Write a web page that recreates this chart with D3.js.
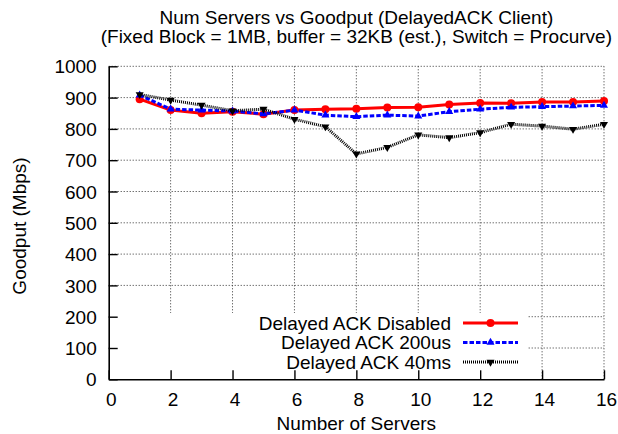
<!DOCTYPE html>
<html>
<head>
<meta charset="utf-8">
<script src="https://cdn.jsdelivr.net/npm/d3@7"></script>
<style>
  body { margin: 0; background: #fff; }
  text { font-family: "Liberation Sans", Arial, Helvetica, sans-serif; font-size: 19px; fill: #000; }
</style>
</head>
<body>
<script>
var width = 618;
var height = 434;

// data
var servers = [1, 2, 3, 4, 5, 6, 7, 8, 9, 10, 11, 12, 13, 14, 15, 16];
var ackDisabled = [895, 860, 850, 855, 847, 860, 863, 864, 868, 869, 878, 883, 882, 886, 886, 889];
var ack200us = [908, 863, 860, 857, 848, 860, 844, 839, 844, 841, 855, 863, 869, 871, 873, 875];
var ack40ms = [910, 892, 876, 858, 863, 831, 807, 720, 741, 781, 772, 788, 815, 809, 799, 815];
var xTicks = [0, 2, 4, 6, 8, 10, 12, 14, 16];
var yTicks = [0, 100, 200, 300, 400, 500, 600, 700, 800, 900, 1000];

var series = [
  { name: 'Delayed ACK Disabled', values: ackDisabled, color: '#ff0000', dash: null, marker: 'circle' },
  { name: 'Delayed ACK 200us', values: ack200us, color: '#0000ff', dash: '4.5,2', marker: 'up' },
  { name: 'Delayed ACK 40ms', values: ack40ms, color: '#000000', dash: '1,1', marker: 'down' }
];

var margin = { left: 108.7, right: 14, top: 66.3, bottom: 54.7 };

var x = d3.scaleLinear().domain([0, 16]).range([margin.left, width - margin.right]);
var y = d3.scaleLinear().domain([0, 1000]).range([height - margin.bottom, margin.top]);

var svg = d3.select('body')
  .append('svg')
  .attr('width', width)
  .attr('height', height);

// title
svg.append('text')
  .attr('x', (x(0) + x(16)) / 2)
  .attr('y', 24)
  .attr('text-anchor', 'middle')
  .text('Num Servers vs Goodput (DelayedACK Client)');
svg.append('text')
  .attr('x', (x(0) + x(16)) / 2)
  .attr('y', 43)
  .attr('text-anchor', 'middle')
  .text('(Fixed Block = 1MB, buffer = 32KB (est.), Switch = Procurve)');

// dotted grid
var grid = svg.append('g')
  .attr('stroke', '#333')
  .attr('stroke-width', 1)
  .attr('stroke-dasharray', '1,2');
grid.selectAll('.gx')
  .data(xTicks.filter(function(d) { return d > 0; }))
  .enter().append('line')
  .attr('x1', function(d) { return x(d); })
  .attr('x2', function(d) { return x(d); })
  .attr('y1', y(0))
  .attr('y2', y(1000));
grid.selectAll('.gy')
  .data(yTicks.filter(function(d) { return d > 0; }))
  .enter().append('line')
  .attr('x1', x(0))
  .attr('x2', x(16))
  .attr('y1', function(d) { return y(d); })
  .attr('y2', function(d) { return y(d); });

// opaque key box
svg.append('rect')
  .attr('x', x(0))
  .attr('y', 313)
  .attr('width', 527 - x(0))
  .attr('height', y(0) - 313)
  .attr('fill', '#fff');

// axes, ticks pointing inward
var xAxis = d3.axisBottom(x).tickValues(xTicks).tickFormat(d3.format('d')).tickSizeOuter(0);
var yAxis = d3.axisLeft(y).tickValues(yTicks).tickFormat(d3.format('d')).tickSizeOuter(0);

var gx = svg.append('g')
  .attr('transform', 'translate(0,' + y(0) + ')')
  .call(xAxis);
var gy = svg.append('g')
  .attr('transform', 'translate(' + x(0) + ',0)')
  .call(yAxis);

[gx, gy].forEach(function(g) {
  g.select('.domain').attr('stroke', '#000').attr('stroke-width', 1.6);
  g.selectAll('.tick line').attr('stroke', '#000').attr('stroke-width', 1.4);
  g.selectAll('.tick text').style('font-size', '19px').attr('font-family', null);
});
gx.selectAll('.tick line').attr('y2', -9);
gx.selectAll('.tick text').attr('dx', 2).attr('dy', '0.71em').attr('y', 13);
gy.selectAll('.tick line').attr('x2', 9);
gy.selectAll('.tick text').attr('x', -12).attr('dy', '0.35em');

// axis titles
svg.append('text')
  .attr('x', (x(0) + x(16)) / 2)
  .attr('y', 430)
  .attr('text-anchor', 'middle')
  .text('Number of Servers');
svg.append('text')
  .attr('transform', 'translate(26,226) rotate(-90)')
  .attr('text-anchor', 'middle')
  .text('Goodput (Mbps)');

var line = d3.line()
  .x(function(d, i) { return x(servers[i]); })
  .y(function(d) { return y(d); });

function drawMarker(g, type, color, cx, cy) {
  if (type === 'circle') {
    g.append('circle').attr('cx', cx).attr('cy', cy).attr('r', 4).attr('fill', color);
  } else {
    var sym = d3.symbol().type(d3.symbolTriangle).size(28);
    g.append('path')
      .attr('d', sym)
      .attr('transform', 'translate(' + cx + ',' + cy + ')' + (type === 'down' ? ' rotate(180)' : ''))
      .attr('fill', color);
  }
}

// series lines and markers
series.forEach(function(s) {
  var g = svg.append('g');
  g.append('path')
    .datum(s.values)
    .attr('d', line)
    .attr('fill', 'none')
    .attr('stroke', s.color)
    .attr('stroke-width', 3)
    .attr('stroke-dasharray', s.dash);
  s.values.forEach(function(v, i) {
    drawMarker(g, s.marker, s.color, x(servers[i]), y(v));
  });
});

// legend
var legendY = [323, 342.5, 362];
series.forEach(function(s, i) {
  var g = svg.append('g');
  g.append('text')
    .attr('x', 451)
    .attr('y', legendY[i])
    .attr('dy', '0.35em')
    .attr('text-anchor', 'end')
    .text(s.name);
  g.append('line')
    .attr('x1', 463)
    .attr('x2', 518)
    .attr('y1', legendY[i])
    .attr('y2', legendY[i])
    .attr('stroke', s.color)
    .attr('stroke-width', 3)
    .attr('stroke-dasharray', s.dash);
  drawMarker(g, s.marker, s.color, 490.5, legendY[i]);
});
</script>
</body>
</html>
